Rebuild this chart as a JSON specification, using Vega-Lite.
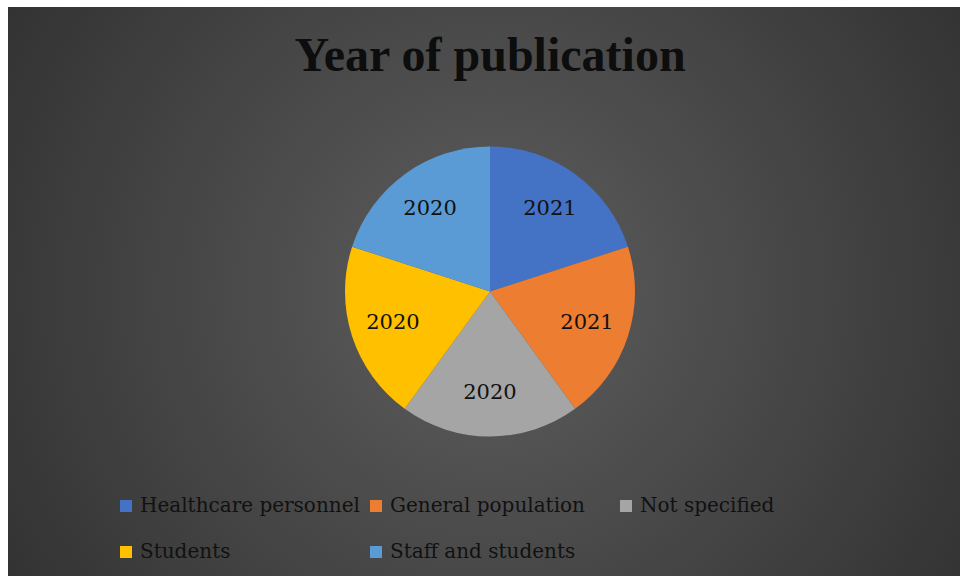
{
  "$schema": "https://vega.github.io/schema/vega-lite/v6.json",
  "width": 964,
  "height": 569,
  "autosize": {"type": "none"},
  "padding": {"left": 8, "top": 7, "right": 0, "bottom": 0},
  "background": "#ffffff",
  "view": {
    "stroke": null,
    "fill": {
      "gradient": "radial",
      "x1": 0.5, "y1": 0.5, "r1": 0,
      "x2": 0.5, "y2": 0.5, "r2": 0.75,
      "stops": [
        {"offset": 0, "color": "#5e5e5e"},
        {"offset": 1, "color": "#262626"}
      ]
    }
  },
  "title": {
    "text": "Year of publication",
    "font": "Liberation Serif",
    "fontSize": 48,
    "fontWeight": "bold",
    "color": "#0d0d0d",
    "anchor": "middle",
    "frame": "group",
    "baseline": "alphabetic",
    "offset": 0,
    "dy": 112
  },
  "data": {
    "values": [
      {"group": "Healthcare personnel", "year": 2021, "idx": 1},
      {"group": "General population", "year": 2021, "idx": 2},
      {"group": "Not specified", "year": 2020, "idx": 3},
      {"group": "Students", "year": 2020, "idx": 4},
      {"group": "Staff and students", "year": 2020, "idx": 5}
    ]
  },
  "encoding": {
    "theta": {"field": "year", "type": "quantitative", "stack": true},
    "order": {"field": "idx", "type": "quantitative"}
  },
  "layer": [
    {
      "mark": {"type": "arc", "outerRadius": 145, "stroke": null},
      "encoding": {
        "color": {
          "field": "group",
          "type": "nominal",
          "scale": {
            "domain": ["Healthcare personnel", "Students", "General population", "Staff and students", "Not specified"],
            "range": ["#4472c4", "#ffc000", "#ed7d31", "#5b9bd5", "#a5a5a5"]
          },
          "legend": {
            "orient": "none",
            "legendX": 108,
            "legendY": 489,
            "columns": 3,
            "title": null,
            "symbolType": "square",
            "symbolSize": 144,
            "symbolStrokeWidth": 0,
            "labelFont": "DejaVu Serif",
            "labelFontSize": 20,
            "labelColor": "#111111",
            "labelOffset": 4,
            "labelLimit": 400,
            "gridAlign": "all",
            "columnPadding": 6,
            "rowPadding": 26
          }
        }
      }
    },
    {
      "mark": {"type": "text", "radius": 102, "font": "DejaVu Serif", "fontSize": 21, "color": "#111111"},
      "encoding": {"text": {"field": "year", "type": "quantitative", "format": "d"}}
    }
  ]
}
